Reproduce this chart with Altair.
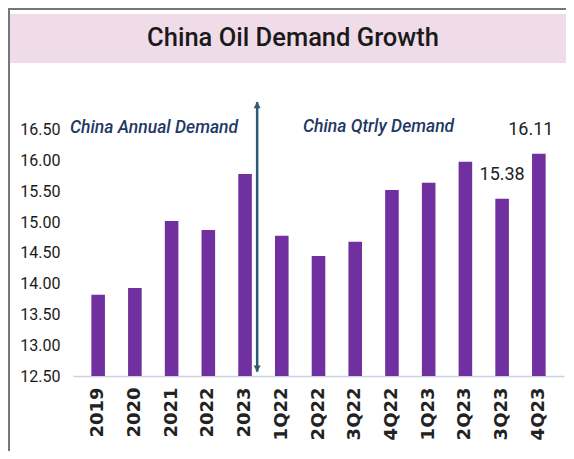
import altair as alt
import pandas as pd

categories = ["2019", "2020", "2021", "2022", "2023",
              "1Q22", "2Q22", "3Q22", "4Q22", "1Q23", "2Q23", "3Q23", "4Q23"]
demand = [13.82, 13.93, 15.02, 14.87, 15.78,
          14.78, 14.45, 14.68, 15.52, 15.64, 15.98, 15.38, 16.11]
y_ticks = [12.5, 13.0, 13.5, 14.0, 14.5, 15.0, 15.5, 16.0, 16.5]

df = pd.DataFrame({"cat": categories, "val": demand})
one = pd.DataFrame({"a": [0]})

FONT = "Roboto, sans-serif"
W, H = 491, 277

xaxis = alt.Axis(labelAngle=-90, labelFont="DejaVu Sans", labelFontWeight="bold",
                 labelFontSize=18, labelColor="#222222", labelPadding=11,
                 ticks=False, domainColor="#c9d3e3", domainWidth=1.5)
yaxis = alt.Axis(values=y_ticks, format=".2f", labelFont=FONT, labelFontSize=16,
                 labelColor="#1a1a1a", labelPadding=13, ticks=False, domain=False,
                 grid=False, labelOverlap=False)
xscale = alt.Scale(paddingOuter=0.5, paddingInner=0.63)
yscale = alt.Scale(domain=[12.5, 17.0], zero=False, nice=False)

xenc = alt.X("cat:N", sort=categories, title=None, scale=xscale, axis=xaxis)
yenc = alt.Y("val:Q", title=None, scale=yscale, axis=yaxis)

base = alt.Chart(df)

bars = base.mark_bar(color="#7030a0").encode(x=xenc, y=yenc, y2=alt.Y2(datum=12.5))

lab_style = dict(font=FONT, fontSize=18, color="#222222", dy=-24)
lab1 = base.transform_filter(alt.datum.cat == "3Q23").mark_text(**lab_style).encode(
    x=xenc, y=yenc, text=alt.Text("val:Q", format=".2f"))
lab2 = base.transform_filter(alt.datum.cat == "4Q23").mark_text(dx=-8, **lab_style).encode(
    x=xenc, y=yenc, text=alt.Text("val:Q", format=".2f"))

band = alt.Chart(one).mark_rect(color="#f0dbe9").encode(
    x=alt.value(-65), x2=alt.value(497), y=alt.value(-85), y2=alt.value(-36))
title = alt.Chart(one).mark_text(text="China Oil Demand Growth", font=FONT, fontSize=25.5,
                                 fontWeight=500, color="#1a1a1a", align="center",
                                 baseline="middle").encode(
    x=alt.value(220), y=alt.value(-61))
top_border = alt.Chart(one).mark_rule(color="#777777", strokeWidth=2).encode(
    x=alt.value(-65), x2=alt.value(497), y=alt.value(-90))
left_border = alt.Chart(one).mark_rule(color="#777777", strokeWidth=2).encode(
    x=alt.value(-64), y=alt.value(-90), y2=alt.value(352))

ann_style = dict(font=FONT, fontSize=17.5, fontStyle="italic", fontWeight=500,
                 color="#1f3864", align="left", baseline="middle")
ann1 = alt.Chart(one).mark_text(text="China Annual Demand", **ann_style).encode(
    x=alt.value(-3), y=alt.value(29))
ann2 = alt.Chart(one).mark_text(text="China Qtrly Demand", **ann_style).encode(
    x=alt.value(230), y=alt.value(28))

arrow_color = "#2f5a72"
ax = alt.X(datum="2023", type="nominal", scale=xscale, axis=xaxis, title=None)
def ay(v):
    return alt.Y(datum=v, type="quantitative", scale=yscale, axis=yaxis, title=None)
arrow_line = alt.Chart(one).mark_rule(color=arrow_color, strokeWidth=2.5).encode(
    x=ax, xOffset=alt.value(18.9), y=ay(16.95), y2=alt.Y2(datum=12.57))
arrow_top = alt.Chart(one).mark_point(shape="triangle-up", filled=True, size=50,
                                      color=arrow_color, opacity=1).encode(
    x=ax, xOffset=alt.value(18.9), y=ay(16.9))
arrow_bot = alt.Chart(one).mark_point(shape="triangle-down", filled=True, size=50,
                                      color=arrow_color, opacity=1).encode(
    x=ax, xOffset=alt.value(18.9), y=ay(12.62))

chart = alt.layer(band, top_border, left_border, title, bars, lab1, lab2, ann1, ann2,
                  arrow_line, arrow_top, arrow_bot).properties(
    width=W, height=H,
    autosize=alt.AutoSizeParams(type="none"),
    padding={"left": 65, "top": 91, "right": 2, "bottom": 75},
    background="white",
).configure_view(stroke=None).configure_axisY(labelOverlap=False)

chart.save("out.html", embed_options={"renderer": "svg", "actions": False})
